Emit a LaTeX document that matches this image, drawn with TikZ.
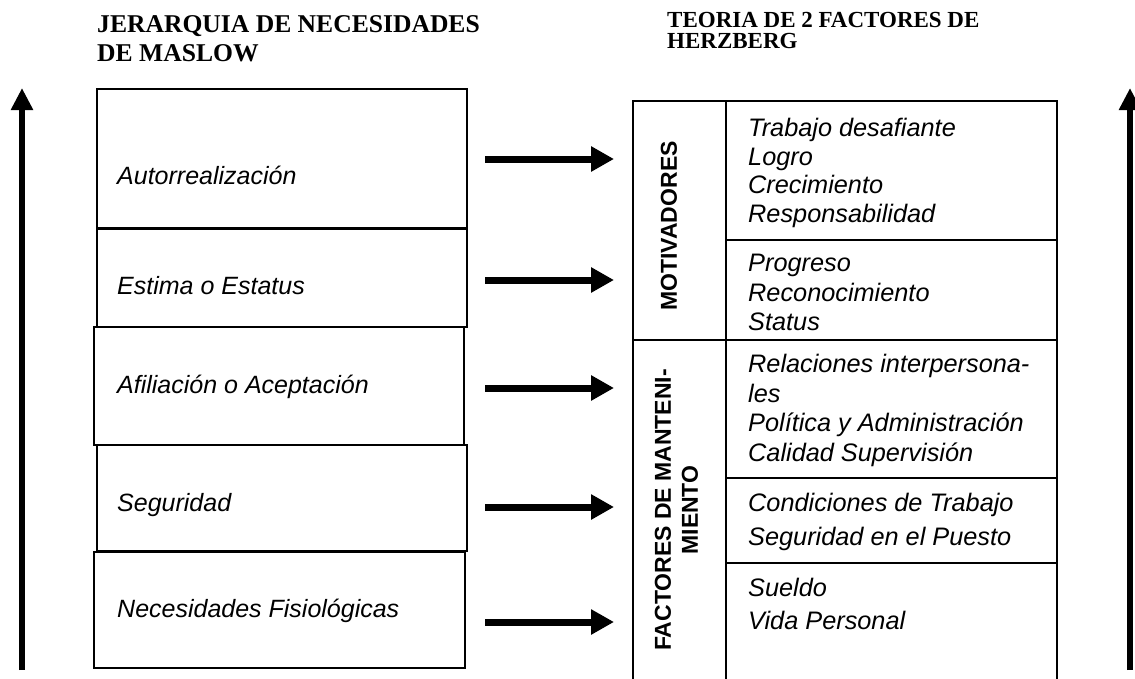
\documentclass[tikz,border=0pt]{standalone}
\usepackage{fontspec}
\setmainfont{Liberation Serif}
\newfontfamily\arial{Liberation Sans}
\usetikzlibrary{arrows.meta}
\tikzset{
  box/.style={draw=black, line width=1.6pt, inner sep=0pt},
  lbl/.style={inner sep=0pt, font=\arial\itshape\fontsize{25}{28.5}\selectfont},
  lst/.style={inner sep=0pt, align=left, anchor=north west, font=\arial\itshape\fontsize{25.3}{#1}\selectfont},
  lst/.default={29.5},
  ttl/.style={inner sep=0pt, anchor=base west},
  rot/.style={inner sep=0pt, rotate=90, align=center, font=\arial\bfseries\fontsize{23}{27}\selectfont},
  bigarrow/.style={line width=7pt, -{Triangle[length=23pt,width=24pt]}},
  vertarrow/.style={line width=6.5pt, -{Triangle[length=22pt,width=21pt]}},
  tline/.style={line width=1.6pt}
}
\begin{document}
\begin{tikzpicture}[x=1pt,y=-1pt]
\useasboundingbox (0,0) rectangle (1135,678);
\fill[white] (0,0) rectangle (1135,678);

% titles
\node[ttl, font=\bfseries\fontsize{25.6}{27}\selectfont] (t1a) at (97,32) {JERARQUIA DE NECESIDADES};
\node[ttl, font=\bfseries\fontsize{25.6}{27}\selectfont] (t1b) at (97,61) {DE MASLOW};
\node[ttl, font=\bfseries\fontsize{23}{20}\selectfont] (t2a) at (667,27) {TEORIA DE 2 FACTORES DE};
\node[ttl, font=\bfseries\fontsize{23}{20}\selectfont] (t2b) at (667,48.5) {HERZBERG};

% Maslow boxes
\draw[box] (97,89) rectangle (467,229);
\draw[box] (97,228) rectangle (467,327);
\draw[box] (94,327) rectangle (464,445);
\draw[box] (97,445) rectangle (467,551);
\draw[box] (94,552) rectangle (465,668);

\node[lbl, anchor=base west] (m1) at (117,184) {Autorrealización};
\node[lbl, anchor=base west] (m2) at (117,294) {Estima o Estatus};
\node[lbl, anchor=base west] (m3) at (117,393) {Afiliación o Aceptación};
\node[lbl, anchor=base west] (m4) at (117,511) {Seguridad};
\node[lbl, anchor=base west] (m5) at (117,617) {Necesidades Fisiológicas};

% horizontal arrows
\coordinate (a1s) at (485,159); \coordinate (a1e) at (614,159);
\coordinate (a2s) at (485,280); \coordinate (a2e) at (614,280);
\coordinate (a3s) at (485,388); \coordinate (a3e) at (614,388);
\coordinate (a4s) at (485,507); \coordinate (a4e) at (614,507);
\coordinate (a5s) at (485,622); \coordinate (a5e) at (614,622);
\draw[bigarrow] (a1s) -- (a1e);
\draw[bigarrow] (a2s) -- (a2e);
\draw[bigarrow] (a3s) -- (a3e);
\draw[bigarrow] (a4s) -- (a4e);
\draw[bigarrow] (a5s) -- (a5e);

% vertical arrows
\coordinate (lvs) at (22,670); \coordinate (lve) at (22,88);
\coordinate (rvs) at (1130,670); \coordinate (rve) at (1130,88);
\draw[vertarrow] (lvs) -- (lve);
\draw[vertarrow] (rvs) -- (rve);

% Herzberg table
\draw[tline] (633,101) rectangle (1057,690);
\draw[tline] (726,101) -- (726,690);
\draw[tline] (633,340) -- (1057,340);
\draw[tline] (726,240) -- (1057,240);
\draw[tline] (726,478) -- (1057,478);
\draw[tline] (726,563) -- (1057,563);

\node[rot] (mot) at (669,226) {MOTIVADORES};
\node[rot] (fac) at (676.5,510) {FACTORES DE MANTENI-\\MIENTO};

\node[lst={28.5}] (r1) at (748,118) {Trabajo desafiante\\Logro\\Crecimiento\\Responsabilidad};
\node[lst={29.5}] (r2) at (748,254) {Progreso\\Reconocimiento\\Status};
\node[lst={29.5}] (r3) at (748,354) {Relaciones interpersona-\\les\\Política y Administración\\Calidad Supervisión};
\node[lst={33.5}] (r4) at (748,493) {Condiciones de Trabajo\\Seguridad en el Puesto};
\node[lst={33}] (r5) at (748,578) {Sueldo\\Vida Personal};
\end{tikzpicture}
\end{document}
